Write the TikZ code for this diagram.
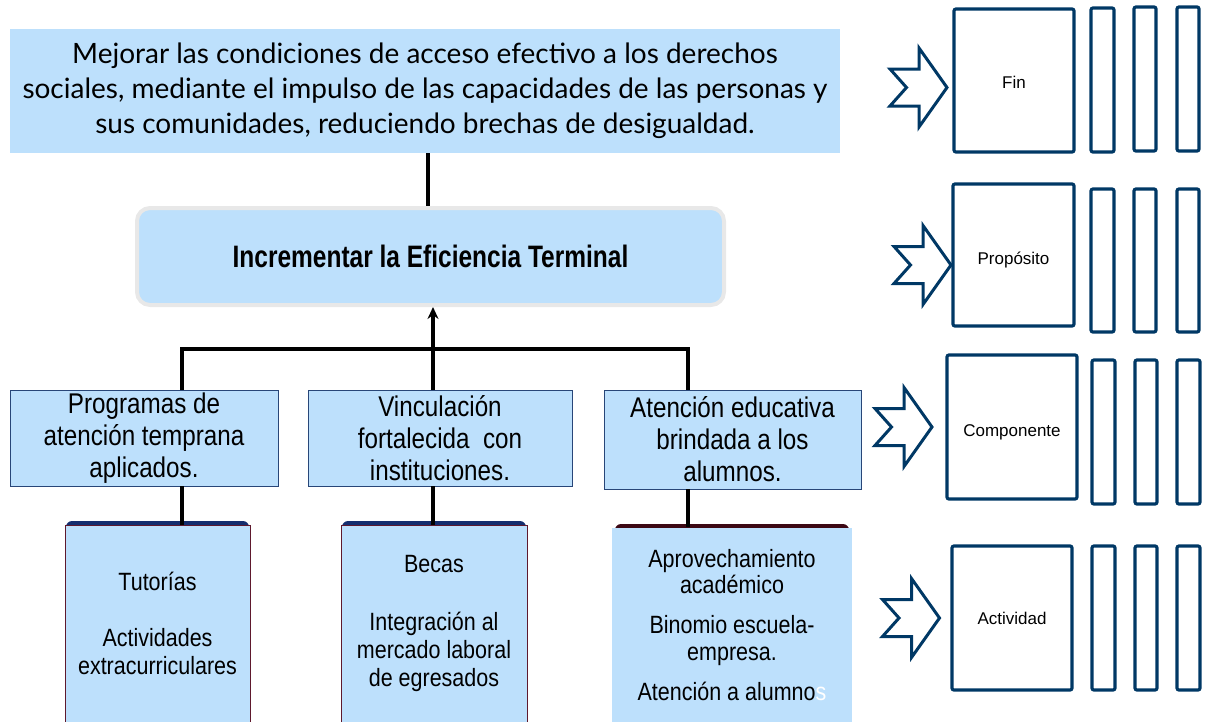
\documentclass[tikz,border=0pt]{standalone}
\usepackage{fontspec}
\setmainfont{Liberation Sans}
\newfontfamily\gill{Lato}
\newfontfamily\condincr[FakeStretch=0.79]{Liberation Sans}
\newfontfamily\condcomp[FakeStretch=0.85]{Liberation Sans}
\newfontfamily\condact[FakeStretch=0.86]{Liberation Sans}
\usetikzlibrary{arrows.meta}
\definecolor{lblue}{RGB}{189,224,252}
\definecolor{navy}{RGB}{0,56,101}
\definecolor{cborder}{RGB}{40,70,120}
\definecolor{maroon}{RGB}{95,25,45}
\definecolor{dkmaroon}{RGB}{60,8,20}
\definecolor{topnavy}{RGB}{20,45,110}
\definecolor{lgray}{RGB}{232,232,232}
\newcommand{\lowertext}[2]{\raisebox{-#1}[\height][\depth]{#2}}
\begin{document}
\begin{tikzpicture}[x=1pt,y=-1pt,
  conn/.style={line width=3.5pt, black},
  topbox/.style={fill=lblue, inner sep=0pt, align=center},
  compbox/.style={fill=lblue, draw=cborder, line width=0.8pt, inner sep=0pt, align=center,
     font=\condcomp\fontsize{28.5}{32}\selectfont},
  actbox/.style={fill=lblue, draw=maroon, line width=0.8pt, inner sep=0pt, align=center,
     font=\condact\fontsize{25}{28}\selectfont},
  rbox/.style={draw=navy, line width=3.2pt, rounded corners=2pt, inner sep=0pt,
     font=\fontsize{17}{20}\selectfont},
  chev/.pic={\draw[navy, line width=3pt, line join=miter]
     (0,-18.5) -- (29,-18.5) -- (29,-39.5) -- (57,0) -- (29,39.5) -- (29,18.5) -- (0,18.5) -- (16.5,0) -- cycle;}
]
\useasboundingbox (0,0) rectangle (1208,721);

% Fin (top objective)
\node[topbox, minimum width=830pt, minimum height=124pt, font=\gill\fontsize{28}{35}\selectfont]
  (fin0) at (425,91) {Mejorar las condiciones de acceso efectivo a los derechos\\
  sociales, mediante el impulso de las capacidades de las personas y\\
  sus comunidades, reduciendo brechas de desigualdad.};

% Proposito
\node[fill=lblue, draw=lgray, line width=4pt, rounded corners=13pt, minimum width=587pt,
  minimum height=97pt, inner sep=0pt, font=\condincr\bfseries\fontsize{31}{34}\selectfont]
  (incr) at (430.5,256.5) {Incrementar la Eficiencia Terminal};

% Componentes
\node[compbox, minimum width=268pt, minimum height=96pt] (c1) at (144,438)
  {Programas de\\atención temprana\\aplicados.};
\node[compbox, minimum width=264pt, minimum height=96pt] (c2) at (440,438)
  {Vinculación\\fortalecida\ \ con\\instituciones.};
\node[compbox, minimum width=257pt, minimum height=99pt] (c3) at (732.5,439.5)
  {Atención educativa\\brindada a los\\alumnos.};

% Actividades
\fill[topnavy, rounded corners=6pt] (66,521) rectangle (249,534);
\fill[topnavy, rounded corners=6pt] (342,521) rectangle (526,534);
\fill[dkmaroon, rounded corners=6pt] (615,524) rectangle (849,536);
\node[actbox, minimum width=185pt, minimum height=197pt] (a1) at (157.5,623.5)
  {Tutorías\\[28pt]Actividades\\extracurriculares};
\node[actbox, minimum width=186pt, minimum height=197pt] (a2) at (434,623.5)
  {Becas\\[30pt]Integración al\\mercado laboral\\de egresados};
\node[actbox, draw=none, minimum width=240pt, minimum height=195pt,
  font=\condact\fontsize{25}{26.7}\selectfont] (a3) at (732,625)
  {Aprovechamiento\\académico\\[13.3pt]Binomio escuela-\\empresa.\\[13.3pt]Atención a alumno{\color{white}s}};

% Connectors
\draw[conn] (fin0.south -| 428,0) -- (incr.north -| 428,0);
\coordinate (j1) at (182,349);
\coordinate (j3) at (688,349);
\draw[conn] (c1.north -| j1) -- (j1) -- (j3) -- (c3.north -| j3);
\draw[conn, -{Stealth[length=12pt, width=11pt]}] (c2.north -| 433,0) -- (incr.south -| 433,0);
\draw[conn] (c1.south -| 182,0) -- (a1.north -| 182,0);
\draw[conn] (c2.south -| 433,0) -- (a2.north -| 433,0);
\draw[conn] (c3.south -| 688,0) -- (a3.north -| 688,0);

% Right side: MIR levels
\pic at (890,87.5) {chev};
\pic at (894,265) {chev};
\pic at (875,427) {chev};
\pic at (882.5,618) {chev};

\node[rbox, minimum width=120pt, minimum height=143pt] (lfin) at (1014,80.5) {\lowertext{2pt}{Fin}};
\node[rbox, minimum width=23pt, minimum height=144pt] (f1) at (1102.5,80) {};
\node[rbox, minimum width=22pt, minimum height=144pt] (f2) at (1145,79) {};
\node[rbox, minimum width=22pt, minimum height=144pt] (f3) at (1188,79) {};

\node[rbox, minimum width=121pt, minimum height=142pt] (lprop) at (1013.5,255) {\lowertext{5pt}{Propósito}};
\node[rbox, minimum width=23pt, minimum height=143pt] (p1) at (1102.5,260.5) {};
\node[rbox, minimum width=22pt, minimum height=143pt] (p2) at (1145,260.5) {};
\node[rbox, minimum width=22pt, minimum height=143pt] (p3) at (1188,260.5) {};

\node[rbox, minimum width=130pt, minimum height=144pt] (lcomp) at (1012,427) {\lowertext{5pt}{Componente}};
\node[rbox, minimum width=23pt, minimum height=144pt] (k1) at (1103.5,432) {};
\node[rbox, minimum width=22pt, minimum height=144pt] (k2) at (1146,432) {};
\node[rbox, minimum width=23pt, minimum height=144pt] (k3) at (1188.5,432) {};

\node[rbox, minimum width=120pt, minimum height=144pt] (lact) at (1012,618) {Actividad};
\node[rbox, minimum width=23pt, minimum height=144pt] (t1) at (1103.5,618) {};
\node[rbox, minimum width=22pt, minimum height=144pt] (t2) at (1146,618) {};
\node[rbox, minimum width=23pt, minimum height=144pt] (t3) at (1188.5,618) {};
\end{tikzpicture}
\end{document}
